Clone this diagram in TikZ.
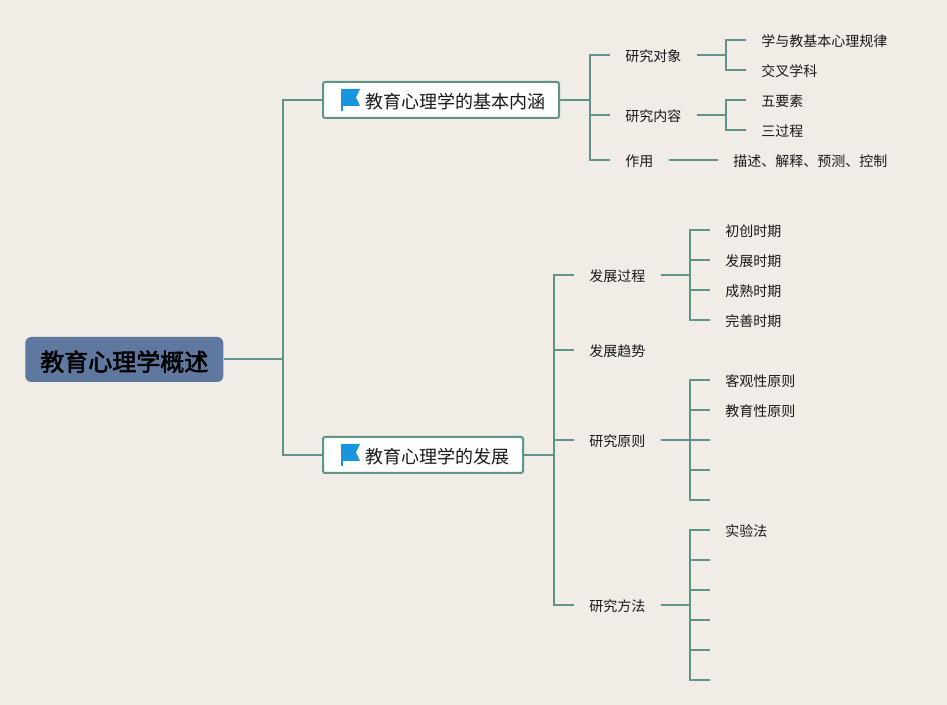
\documentclass[tikz,border=0pt]{standalone}
\usepackage{fontspec}
\setmainfont{Noto Sans CJK SC}
\newfontfamily\rootfont[FakeBold=2.5]{Noto Sans CJK SC}
\definecolor{paper}{HTML}{F1ECE6}
\definecolor{branch}{HTML}{5E9586}
\definecolor{slate}{HTML}{5F78A0}
\definecolor{flagblue}{HTML}{1A94DC}
\tikzset{
    link/.style={line width=1.5pt, branch},
    elbow/.style={to path={-- ++(#1,0) |- (\tikztotarget)}},
    elbow/.default=30,
    rootbox/.style={anchor=west, fill=slate, rounded corners=4.5pt, minimum height=33.75pt, inner xsep=11.25pt, inner ysep=0pt, text height=19pt, text depth=2pt, font=\fontsize{18pt}{20pt}\rootfont, text=black},
    topicbox/.style={anchor=west, draw=branch, line width=1.5pt, fill=white, rounded corners=1.5pt, minimum height=27pt, inner xsep=10.5pt, inner ysep=0pt, text height=14pt, text depth=1.5pt, font=\fontsize{13.5pt}{16pt}\selectfont, text=black!90},
    item/.style={anchor=west, inner xsep=11.25pt, inner ysep=0pt, text height=11pt, text depth=1.5pt, font=\fontsize{10.5pt}{12pt}\selectfont, text=black!90},
    flag/.pic={\fill[flagblue] (0,0) -- (19,0) -- (15,8.5) -- (19,17) -- (2,17) -- (2,22) -- (0,22) -- cycle;}
}
\begin{document}
\begin{tikzpicture}[x=0.75pt, y=-0.75pt]
    \useasboundingbox[fill=paper] (0,0) rectangle (947,705);

    \node[rootbox] (root) at (25,359.5) {教育心理学概述};
    \node[topicbox] (basic) at (322,100) {\hspace*{21pt}教育心理学的基本内涵};
    \node[topicbox] (growth) at (322,455) {\hspace*{21pt}教育心理学的发展};
    \pic at (341,89) {flag};
    \pic at (341,444) {flag};

    \node[item] (object) at (610,55) {研究对象};
    \node[item] (content) at (610,115) {研究内容};
    \node[item] (role) at (610,160) {作用};
    \node[item] (law) at (746,40) {学与教基本心理规律};
    \node[item] (cross) at (746,70) {交叉学科};
    \node[item] (five) at (746,100) {五要素};
    \node[item] (three) at (746,130) {三过程};
    \node[item] (describe) at (718,160) {描述、解释、预测、控制};

    \node[item] (process) at (574,275) {发展过程};
    \node[item] (trend) at (574,350) {发展趋势};
    \node[item] (principle) at (574,440) {研究原则};
    \node[item] (method) at (574,605) {研究方法};

    \node[item] (early) at (710,230) {初创时期};
    \node[item] (develop) at (710,260) {发展时期};
    \node[item] (mature) at (710,290) {成熟时期};
    \node[item] (perfect) at (710,320) {完善时期};

    \node[item] (objective) at (710,380) {客观性原则};
    \node[item] (educative) at (710,410) {教育性原则};
    \coordinate (pthree) at (710,440);
    \coordinate (pfour) at (710,470);
    \coordinate (pfive) at (710,500);

    \node[item] (experiment) at (710,530) {实验法};
    \coordinate (mtwo) at (710,560);
    \coordinate (mthree) at (710,590);
    \coordinate (mfour) at (710,620);
    \coordinate (mfive) at (710,650);
    \coordinate (msix) at (710,680);

    \draw[link] (root.east) to[elbow=59] (basic.west);
    \draw[link] (root.east) to[elbow=59] (growth.west);

    \foreach \to in {object, content, role}
        \draw[link] (basic.east) to[elbow] (\to.west);
    \foreach \to in {process, trend, principle, method}
        \draw[link] (growth.east) to[elbow] (\to.west);

    \foreach \to in {law, cross}
        \draw[link] (object.east) to[elbow=29] (\to.west);
    \foreach \to in {five, three}
        \draw[link] (content.east) to[elbow=29] (\to.west);
    \draw[link] (role.east) -- (describe.west);

    \foreach \to in {early, develop, mature, perfect}
        \draw[link] (process.east) to[elbow=29] (\to.west);
    \foreach \to in {objective.west, educative.west, pthree, pfour, pfive}
        \draw[link] (principle.east) to[elbow=29] (\to);
    \foreach \to in {experiment.west, mtwo, mthree, mfour, mfive, msix}
        \draw[link] (method.east) to[elbow=29] (\to);
\end{tikzpicture}
\end{document}
